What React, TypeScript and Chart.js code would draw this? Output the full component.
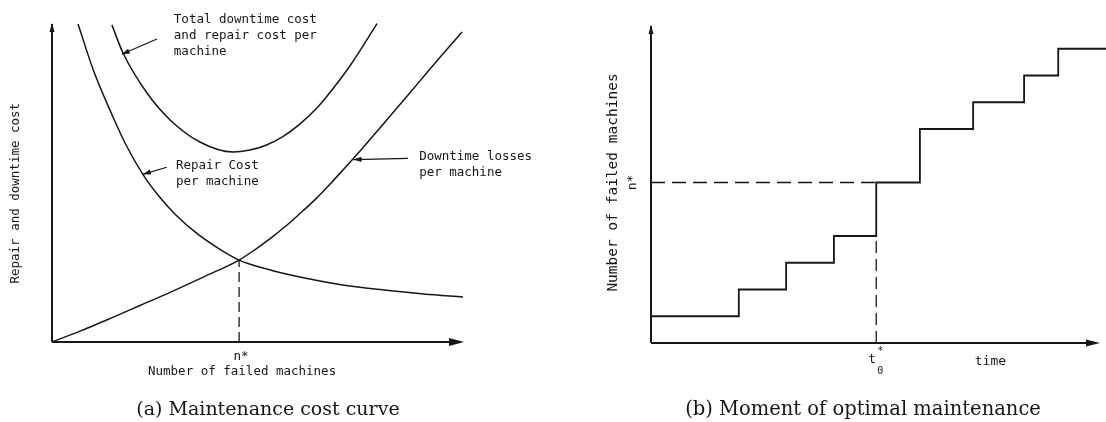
import React, { useEffect, useRef } from "react";
import { Chart, registerables } from "chart.js";

Chart.register(...registerables);

// ---- Panel (a): maintenance cost curves (x: failed machines, y: cost, both 0..100) ----
const repairCostX = [6.3, 10, 14.5, 18, 22, 26, 30, 35, 40, 45.3, 52, 60, 70, 80, 90, 99.5];
const repairCostY = [99.4, 85.0, 71.1, 61.4, 52.4, 45.4, 39.7, 34.0, 29.5, 25.6, 22.8, 20.3, 17.9, 16.3, 15.0, 14.1];

const downtimeX = [0, 6.8, 14.0, 21.3, 28.6, 37.0, 45.3, 49.2, 52.8, 56.4, 60.0, 63.7, 67.3, 70.9, 74.6, 79.4, 84.3, 89.1, 93.9, 99.3];
const downtimeY = [0, 3.4, 7.3, 11.4, 15.5, 20.5, 25.6, 28.9, 32.3, 36.0, 40.1, 44.5, 49.3, 54.4, 59.7, 66.9, 74.3, 81.6, 88.9, 96.9];

const totalX = [14.5, 17.2, 23.0, 28.6, 35.8, 43.8, 47.9, 51.8, 55.9, 60.0, 64.2, 68.3, 72.2, 78.7];
const totalY = [99.1, 90.3, 77.8, 69.4, 62.5, 59.4, 60.0, 61.5, 64.2, 68.1, 73.2, 79.6, 86.4, 99.5];

const nStar = 45.3;
const costAtNStar = 25.6;

// ---- Panel (b): failures over time (step function) ----
const failureTimes = [0, 19.3, 29.7, 40.2, 49.5, 59.1, 70.8, 82.0, 89.5, 100];
const failedCounts = [1, 2, 3, 4, 6, 8, 9, 10, 11, 11];
const tZeroStar = 49.5;
const nStarCount = 6;
const countBeforeTZero = 4;

const INK = "#161616";
const MONO = "'DejaVu Sans Mono', monospace";
const SERIF = "'DejaVu Serif', serif";

type Pt = { x: number; y: number };
const zip = (xs: number[], ys: number[]): Pt[] => xs.map((x, i) => ({ x, y: ys[i] }));

function segment(ctx: CanvasRenderingContext2D, x1: number, y1: number, x2: number, y2: number) {
  ctx.beginPath();
  ctx.moveTo(x1, y1);
  ctx.lineTo(x2, y2);
  ctx.stroke();
}

function arrowHead(ctx: CanvasRenderingContext2D, x: number, y: number, angle: number, len: number, half: number) {
  ctx.save();
  ctx.translate(x, y);
  ctx.rotate(angle);
  ctx.beginPath();
  ctx.moveTo(0, 0);
  ctx.lineTo(-len, -half);
  ctx.lineTo(-len, half);
  ctx.closePath();
  ctx.fill();
  ctx.restore();
}

// Callout labels with pointer arrows, in data units of panel (a)
const costNotes = [
  { lines: ["Total downtime cost", "and repair cost per", "machine"], text: [29.5, 100.6], tail: [25.4, 94.7], head: [16.9, 89.9] },
  { lines: ["Repair Cost", "per machine"], text: [30.0, 55.0], tail: [27.8, 54.6], head: [22.0, 52.4] },
  { lines: ["Downtime losses", "per machine"], text: [88.9, 57.8], tail: [86.2, 57.4], head: [73.0, 57.0] },
];

const costDecor = {
  id: "costDecor",
  afterDatasetsDraw(chart: any) {
    const { ctx, chartArea, scales } = chart;
    const xs = scales.x;
    const ys = scales.y;
    const ox = xs.getPixelForValue(0);
    const oy = ys.getPixelForValue(0);
    ctx.save();
    ctx.strokeStyle = INK;
    ctx.fillStyle = INK;
    ctx.lineWidth = 2;
    // axes with arrowheads
    segment(ctx, ox, oy, ox, chartArea.top + 2);
    arrowHead(ctx, ox, chartArea.top + 1, -Math.PI / 2, 9, 2.5);
    segment(ctx, ox, oy, chartArea.right - 4, oy);
    arrowHead(ctx, chartArea.right - 1, oy, 0, 15, 4);

    // callouts
    ctx.lineWidth = 1.2;
    ctx.font = `12.5px ${MONO}`;
    ctx.textBaseline = "middle";
    ctx.textAlign = "left";
    for (const n of costNotes) {
      const tx = xs.getPixelForValue(n.text[0]);
      const ty = ys.getPixelForValue(n.text[1]);
      n.lines.forEach((l, i) => ctx.fillText(l, tx, ty + i * 15.7));
      const ax = xs.getPixelForValue(n.tail[0]);
      const ay = ys.getPixelForValue(n.tail[1]);
      const hx = xs.getPixelForValue(n.head[0]);
      const hy = ys.getPixelForValue(n.head[1]);
      segment(ctx, ax, ay, hx, hy);
      arrowHead(ctx, hx, hy, Math.atan2(hy - ay, hx - ax), 8, 2.6);
    }

    // axis labels
    const nx = xs.getPixelForValue(nStar);
    ctx.textAlign = "center";
    ctx.fillText("n*", nx + 2, oy + 15);
    ctx.fillText("Number of failed machines", nx + 3, oy + 30);
    ctx.save();
    ctx.translate(ox - 36, ys.getPixelForValue(46.5));
    ctx.rotate(-Math.PI / 2);
    ctx.fillText("Repair and downtime cost", 0, 0);
    ctx.restore();

    // caption
    ctx.font = `19px ${SERIF}`;
    ctx.fillText("(a) Maintenance cost curve", 268, 410);
    ctx.restore();
  },
};

const timeDecor = {
  id: "timeDecor",
  afterDatasetsDraw(chart: any) {
    const { ctx, chartArea, scales } = chart;
    const xs = scales.x;
    const ys = scales.y;
    const ox = xs.getPixelForValue(0);
    const oy = ys.getPixelForValue(0);
    ctx.save();
    ctx.strokeStyle = INK;
    ctx.fillStyle = INK;
    ctx.lineWidth = 2;
    segment(ctx, ox, oy, ox, chartArea.top + 4);
    arrowHead(ctx, ox, chartArea.top + 3, -Math.PI / 2, 9, 2.5);
    const tipX = chartArea.right - 6;
    segment(ctx, ox, oy, tipX - 4, oy);
    arrowHead(ctx, tipX, oy, 0, 14, 3.5);

    ctx.textBaseline = "middle";
    ctx.textAlign = "center";
    // vertical axis title and n* mark
    ctx.font = `14.5px ${MONO}`;
    ctx.save();
    ctx.translate(ox - 38, ys.getPixelForValue(nStarCount));
    ctx.rotate(-Math.PI / 2);
    ctx.fillText("Number of failed machines", 0, 0);
    ctx.restore();
    ctx.font = `13px ${MONO}`;
    ctx.save();
    ctx.translate(ox - 18, ys.getPixelForValue(nStarCount));
    ctx.rotate(-Math.PI / 2);
    ctx.fillText("n*", 0, 0);
    ctx.restore();

    // t0* and time
    const tx = xs.getPixelForValue(tZeroStar);
    ctx.font = `13px ${MONO}`;
    ctx.fillText("t", tx - 4, oy + 17);
    ctx.font = `10px ${MONO}`;
    ctx.fillText("*", tx + 4, oy + 8);
    ctx.fillText("0", tx + 4, oy + 28);
    ctx.font = `13px ${MONO}`;
    ctx.fillText("time", xs.getPixelForValue(74.6), oy + 19);

    ctx.font = `19.5px ${SERIF}`;
    ctx.fillText("(b) Moment of optimal maintenance", 863 - 553, 410);
    ctx.restore();
  },
};

const curve = (data: Pt[]) => ({
  data,
  borderColor: INK,
  borderWidth: 1.5,
  pointRadius: 0,
  fill: false,
  cubicInterpolationMode: "monotone" as const,
  clip: false as const,
});

const dashed = (data: Pt[], dash: number[]) => ({
  data,
  borderColor: INK,
  borderWidth: 1.3,
  borderDash: dash,
  pointRadius: 0,
  fill: false,
  clip: false as const,
});

function PanelCanvas({ config, left }: { config: () => any; left: number }) {
  const ref = useRef<HTMLCanvasElement | null>(null);
  useEffect(() => {
    if (!ref.current) return;
    const chart = new Chart(ref.current, config());
    return () => chart.destroy();
  }, []);
  return (
    <canvas
      ref={ref}
      width={553}
      height={422}
      style={{ position: "absolute", left, top: 0, width: 553, height: 422 }}
    />
  );
}

const baseOptions = (padding: any, yMax: number) => ({
  animation: false,
  responsive: false,
  events: [],
  layout: { padding },
  plugins: { legend: { display: false }, tooltip: { enabled: false }, title: { display: false } },
  scales: {
    x: { type: "linear", min: 0, max: 100, display: false },
    y: { type: "linear", min: 0, max: yMax, display: false },
  },
});

const costConfig = () => ({
  type: "line",
  data: {
    datasets: [
      { label: "Total downtime cost and repair cost per machine", ...curve(zip(totalX, totalY)) },
      { label: "Repair Cost per machine", ...curve(zip(repairCostX, repairCostY)) },
      { label: "Downtime losses per machine", ...curve(zip(downtimeX, downtimeY)) },
      { label: "n*", ...dashed([{ x: nStar, y: 0 }, { x: nStar, y: costAtNStar }], [10, 5]) },
    ],
  },
  options: baseOptions({ left: 52, right: 88, top: 22, bottom: 80 }, 100),
  plugins: [costDecor],
});

const timeConfig = () => ({
  type: "line",
  data: {
    datasets: [
      {
        label: "Failed machines",
        data: zip(failureTimes, failedCounts),
        borderColor: INK,
        borderWidth: 1.8,
        pointRadius: 0,
        fill: false,
        stepped: "before",
        clip: false,
      },
      { label: "n* level", ...dashed([{ x: 0, y: nStarCount }, { x: tZeroStar, y: nStarCount }], [14, 7]) },
      { label: "t0*", ...dashed([{ x: tZeroStar, y: 0 }, { x: tZeroStar, y: countBeforeTZero }], [12, 6]) },
    ],
  },
  options: baseOptions({ left: 98, right: 0, top: 22, bottom: 79 }, 12),
  plugins: [timeDecor],
});

export default function App() {
  return (
    <div
      style={{
        position: "fixed",
        left: 0,
        top: 0,
        width: 1106,
        height: 422,
        background: "#fff",
        overflow: "hidden",
      }}
    >
      <PanelCanvas config={costConfig} left={0} />
      <PanelCanvas config={timeConfig} left={553} />
    </div>
  );
}
